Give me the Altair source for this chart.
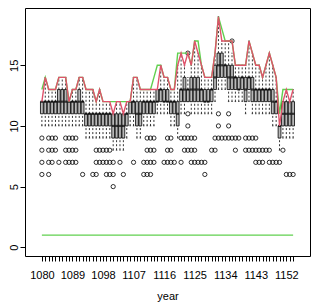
import altair as alt
import pandas as pd

years = list(range(1080, 1155))

q1 = [11, 11, 11, 11, 11, 11, 11, 11, 11, 11, 11, 11, 11,
      10, 10, 10, 10, 10, 10, 10, 10,
      9, 9, 9, 9, 10, 11, 11, 10, 10,
      11, 11, 11, 11, 12, 12, 12, 12, 11, 11,
      10, 12, 12, 12, 12, 12, 12, 12, 12, 12, 12,
      13, 14, 14, 14, 13, 13, 13, 13, 13, 12, 13,
      12, 12, 12, 12, 12, 12, 11, 11, 9, 10, 10, 10, 10]
med = [12, 12, 12, 12, 12, 12, 12, 12, 12, 12, 12, 12, 12,
       11, 11, 11, 11, 11, 11, 11, 11,
       10, 10, 10, 10, 11, 12, 12, 11, 11,
       12, 12, 12, 12, 12, 13, 12, 12, 12, 12,
       11, 13, 13, 13, 13, 13, 13, 13, 12, 12, 13,
       14, 15, 15, 15, 14, 14, 14, 13, 14, 13, 14,
       13, 13, 13, 13, 13, 13, 12, 12, 10, 11, 11, 11, 11]
q3 = [12, 12, 12, 12, 12, 13, 13, 13, 12, 12, 12, 13, 12,
      11, 11, 11, 11, 11, 11, 11, 11,
      11, 11, 11, 11, 11, 12, 12, 12, 12,
      12, 12, 12, 12, 13, 13, 13, 13, 12, 12,
      12, 13, 14, 13, 14, 14, 14, 13, 13, 13, 13,
      15, 16, 16, 15, 15, 15, 14, 14, 14, 14, 14,
      14, 13, 13, 13, 13, 13, 13, 12, 10, 12, 12, 12, 12]
lo = [10, 10, 10, 10, 10, 10, 10, 10, 10, 10, 10, 10, 10,
      9, 9, 9, 9, 9, 9, 9, 9,
      8, 8, 8, 8, 9, 10, 10, 9, 9,
      10, 10, 10, 10, 11, 11, 11, 11, 10, 10,
      9, 11, 11, 12, 11, 11, 11, 11, 11, 11, 11,
      12, 13, 13, 13, 12, 12, 12, 12, 12, 11, 12,
      11, 11, 11, 11, 11, 11, 10, 10, 8, 9, 9, 9, 9]
hi = [12, 14, 13, 13, 13, 14, 14, 14, 12, 13, 13, 14, 14,
      13, 13, 13, 12, 13, 12, 12, 12,
      11, 12, 12, 11, 12, 12, 14, 14, 13,
      13, 13, 13, 13, 13, 15, 14, 14, 13, 13,
      15, 16, 15, 14, 15, 17, 16, 15, 14, 14, 14,
      16, 19, 17, 17, 17, 16, 15, 15, 15, 15, 17,
      16, 15, 15, 14, 15, 16, 15, 14, 10, 12, 13, 12, 13]
red = [12, 14, 13, 13, 13, 14, 14, 14, 12, 13, 13, 14, 14,
       13, 13, 13, 12, 13, 12, 12, 12,
       11, 12, 12, 11, 12, 12, 14, 14, 13,
       13, 13, 13, 13, 13, 15, 14, 14, 13, 13,
       15, 16, 15, 16, 15, 17, 16, 15, 14, 14, 14,
       16, 19, 17, 17, 17, 17, 15, 15, 15, 15, 17,
       16, 15, 15, 14, 15, 16, 15, 14, 10, 12, 13, 12, 13]
green = [13, 14, 13, 13, 13, 14, 14, 14, 12, 13, 13, 14, 14,
         13, 13, 13, 12, 13, 12, 12, 12,
         12, 12, 12, 12, 12, 12, 14, 14, 13,
         13, 13, 13, 14, 15, 15, 14, 14, 13, 13,
         16, 16, 16, 16, 15, 17, 17, 15, 14, 14, 14,
         16, 19, 18, 17, 17, 17, 15, 15, 15, 15, 17,
         16, 15, 15, 14, 15, 16, 15, 14, 11, 13, 13, 13, 13]
floor_line = [1] * 75
outliers = [
    [9, 8, 7, 6], [], [9, 8, 7, 6], [9, 8, 7], [9, 8], [7], [], [9, 8, 7],
    [9, 8, 7], [9, 8, 7], [9, 8, 7], [], [6],
    [], [], [6], [8, 7, 6], [8, 7], [8, 7], [8, 7, 6], [8, 7, 6],
    [7, 6, 5], [], [7], [6], [], [], [7], [], [],
    [7, 6], [9, 8, 7, 6], [9, 8, 7, 6], [9, 8, 7], [], [], [7], [9, 8, 7], [9, 8, 7], [7],
    [], [9, 7], [9, 8], [16, 11, 10, 9, 8], [9, 8, 7], [9, 8, 7], [7], [7], [7, 6], [], [8],
    [9, 8], [11, 10, 9], [9], [9], [11, 10, 9], [17, 9], [9, 8], [9], [], [9, 8], [9, 8],
    [9, 8], [9, 8, 7], [8, 7], [8, 7], [8], [8, 7], [7], [7], [7], [8], [6], [6], [6],
]

box_df = pd.DataFrame({"year": years, "q1": q1, "med": med, "q3": q3,
                       "lo": lo, "hi": hi, "red": red, "green": green,
                       "floor": floor_line})
out_df = pd.DataFrame([{"year": y, "v": v} for y, vs in zip(years, outliers) for v in vs])

FONT = "Liberation Sans"
xscale = alt.Scale(domain=[1076.5, 1157.5], nice=False, zero=False)
yscale = alt.Scale(domain=[-0.72, 19.72], nice=False, zero=False)
xaxis = alt.Axis(values=years, labelExpr="(datum.value - 1080) % 9 == 0 ? datum.value : ''",
                 tickSize=5, labelPadding=8, domain=False, grid=False, labelOverlap=False,
                 labelFlush=False, labelFont=FONT, labelFontSize=11, labelColor="black",
                 tickColor="black", title="year", titleFont=FONT, titleFontSize=11,
                 titleFontWeight="normal", titleColor="black", titleY=43.5,
                 titleBaseline="alphabetic")
yaxis = alt.Axis(values=[0, 5, 10, 15], tickSize=5, labelPadding=1, domain=False, grid=False,
                 labelAngle=270, labelAlign="center", labelBaseline="bottom",
                 labelFont=FONT, labelFontSize=11, labelColor="black", tickColor="black",
                 title=None)

def X():
    return alt.X("year:Q", scale=xscale, axis=xaxis)

base = alt.Chart(box_df)

lower_wh = base.mark_rule(color="black", strokeWidth=0.8, strokeDash=[2, 2]).encode(
    x=X(), y=alt.Y("lo:Q", scale=yscale, axis=yaxis), y2="q1:Q")
upper_wh = base.mark_rule(color="black", strokeWidth=0.8, strokeDash=[2, 2]).encode(
    x=X(), y=alt.Y("q3:Q", scale=yscale, axis=yaxis), y2="hi:Q")
staple_lo = base.mark_tick(color="black", size=1.5, thickness=0.8, orient="horizontal").encode(
    x=X(), y=alt.Y("lo:Q", scale=yscale, axis=yaxis))
staple_hi = base.mark_tick(color="black", size=1.5, thickness=0.8, orient="horizontal").encode(
    x=X(), y=alt.Y("hi:Q", scale=yscale, axis=yaxis))
boxes = base.mark_bar(size=2.8, fill="#b8b8b8", stroke="black", strokeWidth=0.8).encode(
    x=X(), y=alt.Y("q1:Q", scale=yscale, axis=yaxis), y2="q3:Q")
medians = base.mark_tick(color="black", size=2.8, thickness=2.2, orient="horizontal").encode(
    x=X(), y=alt.Y("med:Q", scale=yscale, axis=yaxis))
points = alt.Chart(out_df).mark_point(shape="circle", filled=False, size=18, color="black",
                                      strokeWidth=0.8, opacity=1).encode(
    x=X(), y=alt.Y("v:Q", scale=yscale, axis=yaxis))
green_top = base.mark_line(color="#61D04F", strokeWidth=1.4).encode(
    x=X(), y=alt.Y("green:Q", scale=yscale, axis=yaxis))
red_top = base.mark_line(color="#DF536B", strokeWidth=1.4).encode(
    x=X(), y=alt.Y("red:Q", scale=yscale, axis=yaxis))
green_floor = base.mark_line(color="#61D04F", strokeWidth=1.4).encode(
    x=X(), y=alt.Y("floor:Q", scale=yscale, axis=yaxis))

chart = alt.layer(lower_wh, upper_wh, staple_lo, staple_hi, boxes, medians, points,
                  green_floor, green_top, red_top).properties(
    width=285, height=248,
    autosize=alt.AutoSizeParams(type="none"),
    padding={"left": 17, "top": 0, "right": 11, "bottom": 46},
    background="white",
).configure_view(stroke="black", strokeWidth=1)

chart.save("out.html", embed_options={"renderer": "svg", "actions": False})
